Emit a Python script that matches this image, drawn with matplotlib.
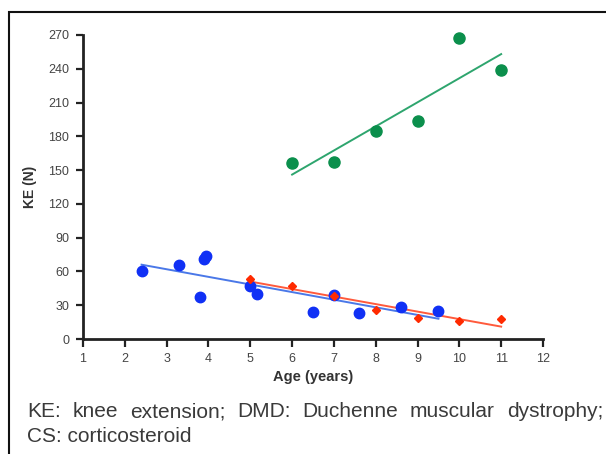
import matplotlib
matplotlib.use("Agg")
import matplotlib.pyplot as plt
from matplotlib.patches import Rectangle

plt.rcParams['font.family'] = ['Liberation Sans', 'DejaVu Sans']

# CS-treated group (green)
cs_age = [6, 7, 8, 9, 10, 11]
cs_ke = [156, 157, 185, 194, 267, 239]
cs_fit_x = [6, 11]
cs_fit_y = [146, 253]

# DMD group (blue)
dmd_age = [2.4, 3.3, 3.8, 3.9, 3.95, 5.0, 5.15, 6.5, 7.0, 7.6, 8.6, 9.5]
dmd_ke = [60, 66, 37, 71, 74, 47, 40, 24, 39, 23, 28, 25]
dmd_fit_x = [2.4, 9.5]
dmd_fit_y = [66, 18]

# third group (red diamonds)
red_age = [5, 6, 7, 8, 9, 10, 11]
red_ke = [53, 47, 38, 26, 19, 16, 18]
red_fit_x = [5, 11]
red_fit_y = [51, 11]

xticks = list(range(1, 13))
yticks = list(range(0, 271, 30))

caption1 = 'KE: knee extension; DMD: Duchenne muscular dystrophy;'
caption2 = 'CS: corticosteroid'

fig = plt.figure(figsize=(6.06, 4.54), dpi=100)
ax = fig.add_axes([0.137, 0.2533, 0.759, 0.6697])

ax.plot(cs_fit_x, cs_fit_y, color='#2ea56e', lw=1.4)
ax.plot(dmd_fit_x, dmd_fit_y, color='#4a78e8', lw=1.4)
ax.plot(red_fit_x, red_fit_y, color='#ff5a3c', lw=1.4)

ax.plot(cs_age, cs_ke, 'o', color='#0b8f4c', ms=8, clip_on=False)
ax.plot(dmd_age, dmd_ke, 'o', color='#1030f5', ms=7.5, clip_on=False)
ax.plot(red_age, red_ke, 'D', color='#ff2a00', ms=4.5, clip_on=False)

ax.set_xlim(1, 12)
ax.set_ylim(0, 270)
ax.set_xticks(xticks)
ax.set_yticks(yticks)
for s in ['top', 'right']:
    ax.spines[s].set_visible(False)
for s in ['left', 'bottom']:
    ax.spines[s].set_linewidth(2)
    ax.spines[s].set_color('#222222')
ax.tick_params(direction='out', length=5.4, width=1.6, color='#222222',
               labelsize=9, labelcolor='#444444', pad=4.5)

ax.set_xlabel('Age (years)', fontsize=10.5, fontweight='bold', color='#333333')
ax.set_ylabel('KE (N)', fontsize=10, fontweight='bold', color='#333333')
ax.xaxis.set_label_coords(0.5, -0.102)
ax.yaxis.set_label_coords(-0.1, 0.5)

# justified first caption line, left 27px to right 603px
renderer = fig.canvas.get_renderer()
words = caption1.split(' ')
x0, x1 = 27 / 606, 603 / 606
arts = [fig.text(0, 1 - 417 / 454, w, fontsize=15, color='#3a3a3a', va='baseline')
        for w in words]
widths = [a.get_window_extent(renderer).width / fig.bbox.width for a in arts]
gap = (x1 - x0 - sum(widths)) / (len(words) - 1)
x = x0
for a, w in zip(arts, widths):
    a.set_x(x)
    x += w + gap
fig.text(x0, 1 - 442 / 454, caption2, fontsize=15, color='#3a3a3a', va='baseline')

fig.patches.append(Rectangle((0.015, -0.1), 1.2, 0.1 + 0.9736, transform=fig.transFigure,
                             fill=False, lw=1.5, ec='#111111'))

fig.savefig('out.png', dpi=100)
